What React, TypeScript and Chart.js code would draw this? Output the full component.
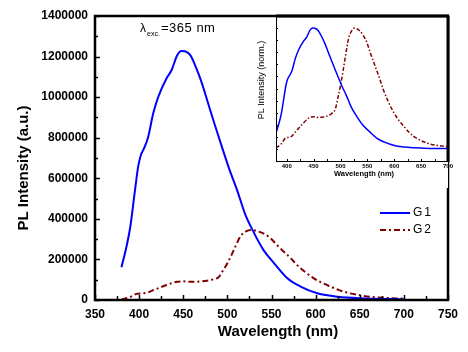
import React, { useEffect, useRef } from "react";
import { Chart, registerables } from "chart.js";

Chart.register(...registerables);

// ---------- data ----------
const seriesNames = ["G1", "G2"];

const wavelengthG1 = [380, 385, 390, 395, 399, 402, 405, 410, 416, 422, 431, 437, 443, 448, 452, 458, 465, 471, 478, 486, 495, 503, 511, 520, 529, 541, 553, 568, 583, 602, 625, 655, 700];
const intensityG1 = [162000, 250000, 361000, 530000, 660000, 715000, 742000, 800000, 920000, 1005000, 1092000, 1135000, 1205000, 1228000, 1226000, 1207000, 1140000, 1070000, 972000, 860000, 739000, 635000, 542000, 425000, 341000, 246000, 181000, 107000, 66000, 33000, 16000, 8000, 3000];

const wavelengthG2 = [380, 390, 397, 403, 409, 418, 428, 436, 443, 450, 458, 468, 477, 485, 490, 495, 500, 505, 509, 515, 521, 527, 535, 542, 549, 556, 564, 572, 579, 588, 598, 607, 617, 626, 636, 648, 662, 680, 700];
const intensityG2 = [3000, 15000, 30000, 33000, 36000, 52000, 69000, 82000, 90000, 92000, 90000, 91000, 95000, 103000, 112000, 145000, 181000, 225000, 263000, 315000, 338000, 345000, 338000, 325000, 304000, 272000, 238000, 205000, 172000, 138000, 107000, 85000, 66000, 50000, 36000, 25000, 16000, 10000, 7000];

const mainXRange = [350, 750];
const mainYRange = [0, 1400000];
const mainXStep = 50;
const mainYStep = 200000;
const insetXRange = [380, 700];
const insetXLabels = [400, 450, 500, 550, 600, 650, 700];
const insetYRange = [-0.1, 1.1];

const xTitle = "Wavelength (nm)";
const yTitle = "PL Intensity (a.u.)";
const insetYTitle = "PL Intensity (norm.)";
const excitationLabel = "365 nm";

const FONT = "Arial, 'Liberation Sans', sans-serif";
const BLUE = "#0000ff";
const MAROON = "#800000";
const DASH = [6, 3, 2, 3];

const toPoints = (xs: number[], ys: number[]) => xs.map((x, i) => ({ x, y: ys[i] }));
const normalize = (ys: number[]) => {
  const m = Math.max(...ys);
  return ys.map((v) => v / m);
};

function line(ctx: CanvasRenderingContext2D, x1: number, y1: number, x2: number, y2: number) {
  ctx.beginPath();
  ctx.moveTo(x1, y1);
  ctx.lineTo(x2, y2);
  ctx.stroke();
}

const mainPlugin = {
  id: "mainDecor",
  afterDatasetsDraw(chart: any) {
    const { ctx, chartArea: a, scales } = chart;
    const x = scales.x;
    const y = scales.y;
    ctx.save();
    ctx.strokeStyle = "#000";
    ctx.fillStyle = "#000";
    ctx.lineWidth = 1.5;
    for (let v = mainXRange[0]; v <= mainXRange[1]; v += mainXStep / 2) {
      const px = Math.round(x.getPixelForValue(v)) + 0.5;
      const len = v % mainXStep === 0 ? 5 : 4;
      line(ctx, px, a.bottom, px, a.bottom - len);
    }
    for (let v = mainYRange[0]; v <= mainYRange[1]; v += mainYStep / 2) {
      const py = Math.round(y.getPixelForValue(v)) + 0.5;
      const len = v % mainYStep === 0 ? 5 : 3;
      line(ctx, a.left, py, a.left + len, py);
    }
    ctx.lineWidth = 2.5;
    ctx.strokeRect(a.left, a.top, a.right - a.left, a.bottom - a.top);

    // axis titles
    ctx.font = `bold 15px ${FONT}`;
    ctx.textAlign = "center";
    ctx.textBaseline = "middle";
    ctx.fillText(xTitle, 278, 332);
    ctx.save();
    ctx.translate(24, 168);
    ctx.rotate(-Math.PI / 2);
    ctx.fillText(yTitle, 0, 0);
    ctx.restore();

    // excitation annotation
    ctx.textAlign = "left";
    ctx.textBaseline = "alphabetic";
    ctx.font = `12px ${FONT}`;
    ctx.fillText("\u03bb", 140, 32);
    ctx.font = `7px ${FONT}`;
    ctx.fillText("exc.", 147, 36);
    ctx.font = `13px ${FONT}`;
    (ctx as any).letterSpacing = "0.5px";
    ctx.fillText("=" + excitationLabel, 161, 32);
    (ctx as any).letterSpacing = "0px";

    // legend
    const ds = chart.data.datasets;
    const rows = [213, 230];
    ds.forEach((d: any, i: number) => {
      ctx.save();
      ctx.strokeStyle = d.borderColor;
      ctx.lineWidth = 2;
      ctx.setLineDash(d.borderDash || []);
      line(ctx, 380, rows[i], 410, rows[i]);
      ctx.restore();
      ctx.font = `12px ${FONT}`;
      ctx.textBaseline = "middle";
      (ctx as any).letterSpacing = "2px";
      ctx.fillText(d.label, 413, rows[i]);
      (ctx as any).letterSpacing = "0px";
    });
    ctx.restore();
  },
};

const insetPlugin = {
  id: "insetDecor",
  beforeDraw(chart: any) {
    const { ctx, chartArea: a } = chart;
    ctx.save();
    ctx.fillStyle = "#fff";
    ctx.fillRect(a.left - 20, a.top + 2, a.right - a.left + 20, a.bottom - a.top + 25);
    ctx.restore();
  },
  afterDatasetsDraw(chart: any) {
    const { ctx, chartArea: a, scales } = chart;
    const x = scales.x;
    const y = scales.y;
    ctx.save();
    ctx.strokeStyle = "#000";
    ctx.fillStyle = "#000";
    ctx.lineWidth = 1;
    for (let v = 400; v <= insetXRange[1]; v += 25) {
      const px = Math.round(x.getPixelForValue(v)) + 0.5;
      line(ctx, px, a.bottom, px, a.bottom - 2);
    }
    for (let k = 0; k <= 10; k++) {
      const py = Math.round(y.getPixelForValue(k / 10)) + 0.5;
      line(ctx, a.left, py, a.left + 2, py);
    }
    // frame: thin left/bottom, thick top/right
    ctx.lineWidth = 1;
    line(ctx, a.left + 0.5, a.top, a.left + 0.5, a.bottom);
    line(ctx, a.left, a.bottom + 0.5, a.right, a.bottom + 0.5);
    ctx.lineWidth = 3;
    line(ctx, a.left, a.top, a.right + 1, a.top);
    line(ctx, a.right, a.top, a.right, a.bottom + 1);

    ctx.textAlign = "center";
    ctx.textBaseline = "middle";
    ctx.font = `bold 7.5px ${FONT}`;
    ctx.fillText(xTitle, (a.left + a.right) / 2 + 2, 174);
    ctx.save();
    ctx.translate(12, 80);
    ctx.rotate(-Math.PI / 2);
    ctx.font = `9px ${FONT}`;
    ctx.fillText(insetYTitle, 0, 0);
    ctx.restore();
    ctx.restore();
  },
};

export default function App() {
  const mainRef = useRef<HTMLCanvasElement>(null);
  const insetRef = useRef<HTMLCanvasElement>(null);

  useEffect(() => {
    document.body.style.margin = "0";
    const main = new Chart(mainRef.current as HTMLCanvasElement, {
      type: "line",
      data: {
        datasets: [
          { label: seriesNames[0], data: toPoints(wavelengthG1, intensityG1), borderColor: BLUE, borderWidth: 2, pointRadius: 0, cubicInterpolationMode: "monotone", fill: false },
          { label: seriesNames[1], data: toPoints(wavelengthG2, intensityG2), borderColor: MAROON, borderWidth: 2, borderDash: DASH, pointRadius: 0, cubicInterpolationMode: "monotone", fill: false },
        ],
      },
      options: {
        animation: false,
        responsive: false,
        events: [],
        layout: { padding: { top: 16, right: 20, left: 0, bottom: 0 } },
        plugins: { legend: { display: false }, tooltip: { enabled: false } },
        scales: {
          x: {
            type: "linear",
            min: mainXRange[0],
            max: mainXRange[1],
            grid: { display: false, drawTicks: false },
            border: { display: false },
            ticks: { stepSize: mainXStep, padding: 7, color: "#000", font: { family: FONT, size: 12, weight: "bold" }, callback: (v: any) => String(v), maxRotation: 0 },
            afterFit: (s: any) => { s.height = 52; },
          },
          y: {
            type: "linear",
            min: mainYRange[0],
            max: mainYRange[1],
            grid: { display: false, drawTicks: false },
            border: { display: false },
            ticks: { stepSize: mainYStep, padding: 7, color: "#000", font: { family: FONT, size: 12, weight: "bold" }, callback: (v: any) => String(v) },
            afterFit: (s: any) => { s.width = 95; },
          },
        },
      } as any,
      plugins: [mainPlugin],
    });

    const inset = new Chart(insetRef.current as HTMLCanvasElement, {
      type: "line",
      data: {
        datasets: [
          { label: seriesNames[0], data: toPoints(wavelengthG1, normalize(intensityG1)), borderColor: BLUE, borderWidth: 1.5, pointRadius: 0, cubicInterpolationMode: "monotone", fill: false },
          { label: seriesNames[1], data: toPoints(wavelengthG2, normalize(intensityG2)), borderColor: MAROON, borderWidth: 1.5, borderDash: [4, 2, 1.5, 2], pointRadius: 0, cubicInterpolationMode: "monotone", fill: false },
        ],
      },
      options: {
        animation: false,
        responsive: false,
        events: [],
        layout: { padding: { top: 16, right: 20, left: 0, bottom: 0 } },
        plugins: { legend: { display: false }, tooltip: { enabled: false } },
        scales: {
          x: {
            type: "linear",
            min: insetXRange[0],
            max: insetXRange[1],
            grid: { display: false, drawTicks: false },
            border: { display: false },
            afterBuildTicks: (s: any) => { s.ticks = insetXLabels.map((v) => ({ value: v })); },
            ticks: { padding: 2, color: "#000", font: { family: FONT, size: 6, weight: "bold" }, callback: (v: any) => String(v), maxRotation: 0, autoSkip: false },
            afterFit: (s: any) => { s.height = 29; },
          },
          y: {
            type: "linear",
            min: insetYRange[0],
            max: insetYRange[1],
            grid: { display: false, drawTicks: false },
            border: { display: false },
            ticks: { display: false },
            afterFit: (s: any) => { s.width = 26; },
          },
        },
      } as any,
      plugins: [insetPlugin],
    });

    return () => {
      main.destroy();
      inset.destroy();
    };
  }, []);

  return (
    <div style={{ position: "fixed", left: 0, top: 0, width: 468, height: 352, background: "#fff" }}>
      <canvas ref={mainRef} width={468} height={352} style={{ position: "absolute", left: 0, top: 0, width: 468, height: 352 }} />
      <canvas ref={insetRef} width={218} height={190} style={{ position: "absolute", left: 250, top: 0, width: 218, height: 190 }} />
    </div>
  );
}
